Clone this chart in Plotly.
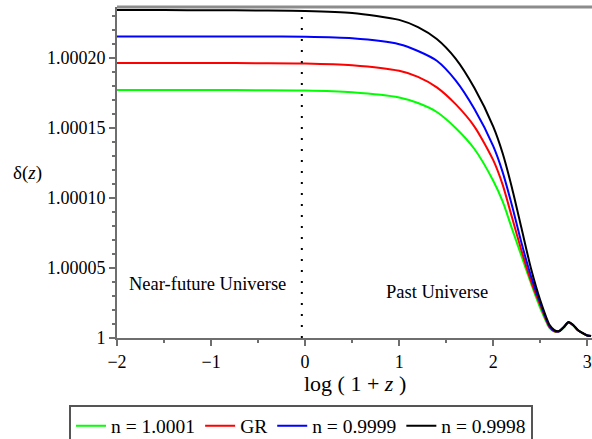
import plotly.graph_objects as go

# log(1+z) grid
x = [-2.0, -1.5, -1.0, -0.5, 0.0, 0.5, 1.0, 1.2, 1.4, 1.6, 1.8, 2.0, 2.1, 2.2, 2.3,
     2.4, 2.5, 2.6, 2.65, 2.7, 2.75, 2.8, 2.85, 2.9, 2.95, 3.0, 3.04]

# delta(z) - 1, in units of 1e-5
d_n10001 = [17.71, 17.71, 17.71, 17.70, 17.68, 17.55, 17.18, 16.78, 16.14, 15.0, 13.5, 11.23,
            9.75, 7.79, 5.86, 3.93, 2.14, 0.70, 0.46, 0.46, 0.75, 1.10, 0.90, 0.55, 0.35, 0.18, 0.14]
d_gr = [19.64, 19.64, 19.64, 19.63, 19.61, 19.48, 19.08, 18.65, 17.90, 16.70, 15.10, 12.70,
        10.95, 8.60, 6.25, 4.10, 2.35, 0.75, 0.48, 0.47, 0.76, 1.11, 0.91, 0.56, 0.35, 0.18, 0.14]
d_n09999 = [21.54, 21.54, 21.54, 21.53, 21.51, 21.40, 20.98, 20.50, 19.80, 18.40, 16.35, 13.70,
            11.85, 9.45, 6.80, 4.45, 2.50, 0.82, 0.52, 0.48, 0.77, 1.12, 0.92, 0.56, 0.36, 0.18, 0.14]
d_n09998 = [23.43, 23.42, 23.41, 23.39, 23.36, 23.22, 22.72, 22.20, 21.35, 19.95, 17.85, 15.10,
            13.20, 10.70, 7.85, 5.00, 2.70, 0.93, 0.57, 0.50, 0.79, 1.14, 0.93, 0.57, 0.36, 0.18, 0.14]

names = ["n = 1.0001", "GR", "n = 0.9999", "n = 0.9998"]
colors = ["#00ff00", "#ff0000", "#0000ff", "#000000"]
series = [d_n10001, d_gr, d_n09999, d_n09998]

ytickvals = [1.0, 1.00005, 1.00010, 1.00015, 1.00020]
yticktext = ["1", "1.00005", "1.00010", "1.00015", "1.00020"]
xtickvals = [-2, -1, 0, 1, 2, 3]

FONT = "Liberation Serif, Times New Roman, serif"
AX = "#6e6e6e"

# plot-area geometry in pixels (used only to place paper-referenced texts)
L, T, W, H = 117, 7, 475, 331


def px(xp):
    return (xp - L) / W


def py(yp):
    return (T + H - yp) / H


fig = go.Figure()
for nm, col, s in zip(names, colors, series):
    fig.add_trace(go.Scatter(
        x=x, y=[1 + v * 1e-5 for v in s], mode="lines", name=nm,
        line=dict(color=col, width=2, shape="spline", smoothing=0.7),
    ))

# dotted divider between near-future and past
fig.add_shape(type="line", xref="x", yref="paper", x0=-0.035, x1=-0.035, y0=0, y1=1,
              line=dict(color="#000000", width=2, dash="2px,9px"))
# top frame line
fig.add_shape(type="line", xref="paper", yref="paper", x0=0, x1=1, y0=1, y1=1,
              line=dict(color="#8c8c8c", width=3))

fig.add_annotation(x=-1.04, y=1 + 3.86e-5, xref="x", yref="y", text="Near-future Universe",
                   xanchor="center", yanchor="middle",
                   showarrow=False, font=dict(family=FONT, size=18.5, color="#000"))
fig.add_annotation(x=1.40, y=1 + 3.29e-5, xref="x", yref="y", text="Past Universe",
                   xanchor="center", yanchor="middle",
                   showarrow=False, font=dict(family=FONT, size=18.5, color="#000"))
fig.add_annotation(x=px(27), y=py(173), xref="paper", yref="paper", text="δ(<i>z</i>)",
                   xanchor="center", yanchor="middle",
                   showarrow=False, font=dict(family=FONT, size=19, color="#000"))
fig.add_annotation(x=px(355), y=py(383), xref="paper", yref="paper",
                   text="log ( 1 + <i>z</i> )", xanchor="center", yanchor="middle",
                   showarrow=False, font=dict(family=FONT, size=22, color="#000"))

fig.update_layout(
    width=592, height=439,
    margin=dict(l=L, r=592 - L - W, t=T, b=439 - T - H, autoexpand=False),
    paper_bgcolor="white", plot_bgcolor="white",
    font=dict(family=FONT, size=18, color="#000"),
    showlegend=True,
    legend=dict(orientation="h", x=px(301), xanchor="center",
                y=py(426), yanchor="middle",
                bgcolor="white", bordercolor="#555555", borderwidth=2,
                font=dict(family=FONT, size=19.5, color="#000"),
                tracegroupgap=0, itemwidth=30),
    xaxis=dict(range=[-2, 3.05], tickmode="array", tickvals=xtickvals, automargin=False,
               showline=True, linecolor=AX, linewidth=2, showgrid=False, zeroline=False,
               ticks="outside", ticklen=6, tickwidth=1.5, tickcolor=AX,
               tickfont=dict(family=FONT, size=18, color="#000"),
               minor=dict(tickmode="linear", tick0=0, dtick=0.5, ticks="outside",
                          ticklen=3, tickwidth=1.5, tickcolor=AX)),
    yaxis=dict(range=[1, 1.0002364], tickmode="array", tickvals=ytickvals, ticktext=yticktext,
               automargin=False,
               showline=True, linecolor=AX, linewidth=2, showgrid=False, zeroline=False,
               ticks="outside", ticklen=6, tickwidth=1.5, tickcolor=AX,
               tickfont=dict(family=FONT, size=18, color="#000"),
               minor=dict(tickmode="linear", tick0=1, dtick=1e-5, ticks="outside",
                          ticklen=3, tickwidth=1.5, tickcolor=AX)),
)

# remove the browser's default 8px page margin so the figure sits at the window origin
fig.write_html("out.html", config={"displayModeBar": False},
               post_script="document.body.style.margin='0px';")
